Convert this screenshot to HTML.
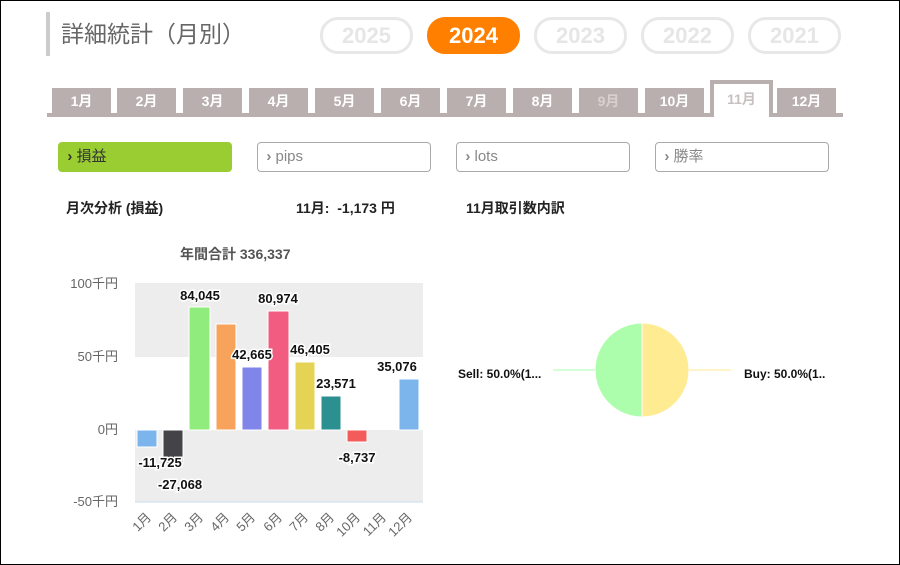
<!DOCTYPE html><html><head><meta charset="utf-8"><style>
body{margin:0;width:900px;height:565px;overflow:hidden;background:#fff;font-family:"Liberation Sans","Noto Sans CJK JP",sans-serif;}
.f{position:absolute;left:0;top:0;width:898px;height:563px;border:1px solid #000;}
.a{position:absolute;}
.pill{position:absolute;top:17px;width:87px;height:31px;border:3px solid #e8e8e8;border-radius:18px;color:#e6e6e6;font-weight:bold;font-size:22px;text-align:center;line-height:31px;}
.tab{position:absolute;top:88px;width:59px;height:25px;background:#b9afae;color:#fff;font-weight:bold;font-size:14px;text-align:center;line-height:27px;}
.btn{position:absolute;top:142px;width:172px;height:28px;border:1px solid #aaa;border-radius:4px;font-size:15px;line-height:28px;color:#888;box-sizing:content-box;}
.b{font-weight:bold;font-size:14px;color:#222;}
</style></head><body><div class="f"></div>
<div class="a" style="left:46px;top:12px;width:4px;height:44px;background:#ccc"></div>
<div class="a" style="left:61px;top:15px;font-size:23px;color:#666">詳細統計（月別）</div>
<div class="pill" style="left:320px">2025</div>
<div class="pill" style="left:427px;background:#ff8000;border-color:#ff8000;color:#fff">2024</div>
<div class="pill" style="left:534px">2023</div>
<div class="pill" style="left:641px">2022</div>
<div class="pill" style="left:748px">2021</div>
<div class="a" style="left:47px;top:113px;width:796px;height:4px;background:#b9afae"></div>
<div class="tab" style="left:52px">1月</div><div class="tab" style="left:117px">2月</div><div class="tab" style="left:183px">3月</div><div class="tab" style="left:249px">4月</div><div class="tab" style="left:315px">5月</div><div class="tab" style="left:381px">6月</div><div class="tab" style="left:447px">7月</div><div class="tab" style="left:513px">8月</div><div class="tab" style="left:579px;color:#d8d0cf">9月</div><div class="tab" style="left:645px">10月</div>
<div class="a" style="left:710px;top:80px;width:55px;height:33px;border:4px solid #b9afae;border-bottom:none;background:#fff;color:#c8c0bf;font-weight:bold;font-size:14px;text-align:center;line-height:30px">11月</div>
<div class="tab" style="left:777px">12月</div>
<div class="btn" style="left:58px;background:#9acd32;border-color:#9acd32;color:#333">&nbsp;&nbsp;<b>›</b> 損益</div>
<div class="btn" style="left:257px">&nbsp;&nbsp;<b>›</b> pips</div>
<div class="btn" style="left:456px">&nbsp;&nbsp;<b>›</b> lots</div>
<div class="btn" style="left:655px">&nbsp;&nbsp;<b>›</b> 勝率</div>
<div class="a b" style="left:66px;top:198px">月次分析 (損益)</div>
<div class="a b" style="left:296px;top:198px">11月:&nbsp; -1,173 円</div>
<div class="a b" style="left:466px;top:198px">11月取引数内訳</div>
<div class="a" style="left:180px;top:244px;font-size:14px;font-weight:bold;color:#555">年間合計 336,337</div>
<svg class="a" style="left:0;top:0" width="900" height="565" font-family="Liberation Sans,Noto Sans CJK JP,sans-serif">
<rect x="135" y="283" width="288" height="74" fill="#ededed"/><rect x="135" y="430" width="288" height="72" fill="#ededed"/>
<line x1="135" y1="502" x2="423" y2="502" stroke="#c8dcf0"/>
<g font-size="13" fill="#666" text-anchor="end"><text x="118" y="288">100千円</text><text x="118" y="361">50千円</text><text x="118" y="434">0円</text><text x="118" y="506">-50千円</text></g>
<g stroke="#fff" stroke-width="1">
<rect x="137" y="430" width="20" height="17" fill="#7cb5ec"/>
<rect x="163" y="430" width="20" height="33" fill="#434348"/>
<rect x="189" y="307" width="21" height="123" fill="#90ed7d"/>
<rect x="216" y="324" width="20" height="106" fill="#f7a35c"/>
<rect x="242" y="367" width="20" height="63" fill="#8085e9"/>
<rect x="268" y="311" width="21" height="119" fill="#f15c80"/>
<rect x="295" y="362" width="20" height="68" fill="#e4d354"/>
<rect x="321" y="396" width="20" height="34" fill="#2b908f"/>
<rect x="347" y="430" width="20" height="12" fill="#f45b5b"/>
<rect x="399" y="379" width="20" height="51" fill="#7cb5ec"/>
</g>
<g font-size="13" font-weight="bold" fill="#111" text-anchor="middle" stroke="#fff" stroke-width="3" paint-order="stroke">
<text x="160" y="467">-11,725</text><text x="180" y="489">-27,068</text><text x="200" y="300">84,045</text><text x="252" y="359">42,665</text><text x="278" y="303">80,974</text><text x="310" y="354">46,405</text><text x="336" y="388">23,571</text><text x="357" y="462">-8,737</text><text x="397" y="371">35,076</text>
</g>
<g font-size="13" fill="#666" text-anchor="end">
<text transform="translate(152,518) rotate(-45)">1月</text><text transform="translate(178,518) rotate(-45)">2月</text><text transform="translate(204,518) rotate(-45)">3月</text><text transform="translate(230,518) rotate(-45)">4月</text><text transform="translate(256,518) rotate(-45)">5月</text><text transform="translate(283,518) rotate(-45)">6月</text><text transform="translate(309,518) rotate(-45)">7月</text><text transform="translate(335,518) rotate(-45)">8月</text><text transform="translate(361,518) rotate(-45)">10月</text><text transform="translate(387,518) rotate(-45)">11月</text><text transform="translate(413,518) rotate(-45)">12月</text>
</g>
<path d="M642,323 A47,47 0 0 0 642,417 Z" fill="#acfdac" stroke="#fff"/>
<path d="M642,323 A47,47 0 0 1 642,417 Z" fill="#ffeb91" stroke="#fff"/>
<line x1="553" y1="370" x2="595" y2="370" stroke="#acfdac"/><line x1="689" y1="370" x2="731" y2="370" stroke="#ffeb91"/>
<g font-size="12" font-weight="bold" fill="#111"><text x="458" y="378">Sell: 50.0%(1...</text><text x="744" y="378">Buy: 50.0%(1..</text></g>
</svg>
</body></html>
